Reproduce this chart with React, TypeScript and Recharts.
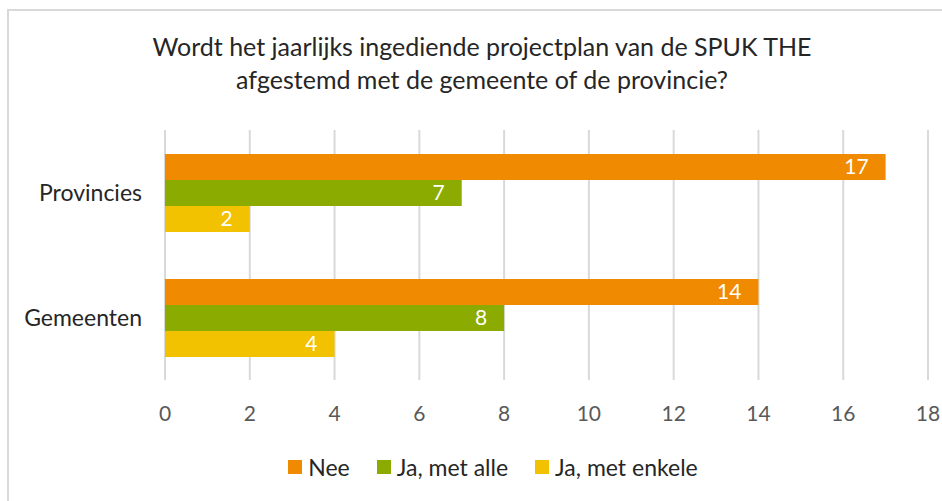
import { BarChart, Bar, XAxis, YAxis, CartesianGrid, LabelList } from 'recharts';

const categories = ['Provincies', 'Gemeenten'];
const nee = [17, 14];
const jaMetAlle = [7, 8];
const jaMetEnkele = [2, 4];
const xTicks = [0, 2, 4, 6, 8, 10, 12, 14, 16, 18];

const seriesInfo = [
  { key: 'nee', name: 'Nee', color: '#F08A00' },
  { key: 'alle', name: 'Ja, met alle', color: '#8BAB00' },
  { key: 'enkele', name: 'Ja, met enkele', color: '#F2C200' },
];

const data = categories.map((c, i) => ({
  name: c,
  nee: nee[i],
  alle: jaMetAlle[i],
  enkele: jaMetEnkele[i],
}));

const FONT = 'Lato, "Noto Sans", sans-serif';

const LegendBox = () => (
  <div
    style={{
      position: 'absolute',
      left: 0,
      top: 452,
      width: 942,
      display: 'flex',
      justifyContent: 'center',
      alignItems: 'center',
      gap: 27,
      fontFamily: FONT,
      fontSize: 23,
      lineHeight: '30px',
      color: '#262626',
      paddingLeft: 44,
      boxSizing: 'border-box',
    }}
  >
    {seriesInfo.map((s) => (
      <div key={s.key} style={{ display: 'flex', alignItems: 'center', gap: 6 }}>
        <span style={{ width: 14, height: 14, background: s.color, display: 'inline-block' }} />
        <span>{s.name}</span>
      </div>
    ))}
  </div>
);

const App = () => {
  return (
    <div
      style={{
        position: 'absolute',
        left: 0,
        top: 0,
        width: 942,
        height: 501,
        overflow: 'hidden',
        background: '#fff',
        fontFamily: FONT,
      }}
    >
      <div
        style={{
          position: 'absolute',
          left: 7,
          top: 9,
          width: 960,
          height: 520,
          border: '2px solid #D9D9D9',
          boxSizing: 'border-box',
        }}
      />
      <div
        style={{
          position: 'absolute',
          left: 0,
          top: 30,
          width: 964,
          textAlign: 'center',
          fontSize: 25,
          lineHeight: '33px',
          color: '#262626',
        }}
      >
        <div>Wordt het jaarlijks ingediende projectplan van de SPUK THE</div>
        <div>afgestemd met de gemeente of de provincie?</div>
      </div>
      <div style={{ position: 'absolute', left: 0, top: 0 }}>
        <BarChart
          width={942}
          height={501}
          data={data}
          layout="vertical"
          barGap={0}
          margin={{ top: 130, right: 14, left: 0, bottom: 81 }}
        >
          <CartesianGrid horizontal={false} stroke="#D9D9D9" strokeWidth={2} />
          <XAxis
            type="number"
            domain={[0, 18]}
            ticks={xTicks}
            axisLine={false}
            tickLine={false}
            tickMargin={20}
            height={40}
            tick={{ fill: '#595959', fontSize: 21, fontFamily: FONT }}
          />
          <YAxis
            type="category"
            dataKey="name"
            width={165}
            axisLine={false}
            tickLine={false}
            tickMargin={17}
            tick={{ fill: '#262626', fontSize: 23, fontFamily: FONT }}
          />
          {seriesInfo.map((s) => (
            <Bar key={s.key} dataKey={s.key} name={s.name} fill={s.color} barSize={26} isAnimationActive={false}>
              <LabelList
                dataKey={s.key}
                position="insideRight"
                offset={17}
                fill="#FFFFFF"
                style={{ fontSize: 21, fontFamily: FONT }}
              />
            </Bar>
          ))}
        </BarChart>
      </div>
      <LegendBox />
    </div>
  );
};

export default App;
